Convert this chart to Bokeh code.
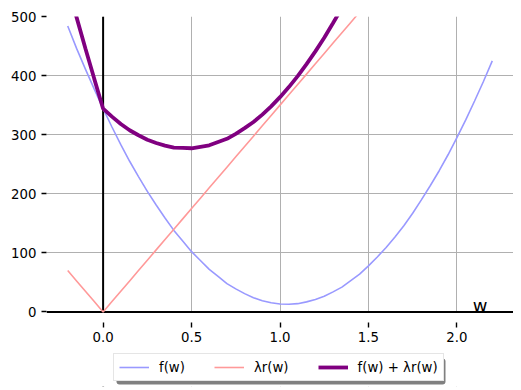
from bokeh.plotting import figure
from bokeh.models import (Range1d, FixedTicker, Span, Legend, LegendItem, Label,
                          BoxAnnotation)
from bokeh.embed import file_html
from bokeh.resources import INLINE

# ---- data ----
w = [-0.20, -0.15, -0.10, -0.05, 0.00, 0.05, 0.10, 0.15, 0.20, 0.25, 0.30, 0.35,
     0.40, 0.45, 0.50, 0.55, 0.60, 0.65, 0.70, 0.75, 0.80, 0.85, 0.90, 0.95,
     1.00, 1.05, 1.10, 1.15, 1.20, 1.25, 1.30, 1.35, 1.40, 1.45, 1.50, 1.55,
     1.60, 1.65, 1.70, 1.75, 1.80, 1.85, 1.90, 1.95, 2.00, 2.05, 2.10, 2.15, 2.20]

f_w = [484, 446, 411, 377, 344, 313, 283, 255, 229, 204, 181, 159,
       138, 120, 102, 87, 72, 60, 48, 39, 31, 24, 19, 15.5,
       13.5, 13, 14, 17, 21, 26.5, 34, 42, 53, 64, 78, 93,
       109, 127, 146, 167, 190, 214, 239, 266, 295, 325, 357, 390, 425]

lam_r = [70, 52.5, 35, 17.5, 0, 17.5, 35, 52.5, 70, 87.5, 105, 122.5,
         140, 157.5, 175, 192.5, 210, 227.5, 245, 262.5, 280, 297.5, 315, 332.5,
         350, 367.5, 385, 402.5, 420, 437.5, 455, 472.5, 490, 507.5, 525, 542.5,
         560, 577.5, 595, 612.5, 630, 647.5, 665, 682.5, 700, 717.5, 735, 752.5, 770]

total = [554, 498.5, 446, 394.5, 344, 330.5, 318, 307.5, 299, 291.5, 286, 281.5,
         278, 277.5, 277, 279.5, 282, 287.5, 293, 301.5, 311, 321.5, 334, 348,
         363.5, 380.5, 399, 419.5, 441, 464, 489, 514.5, 543, 571.5, 603, 635.5,
         669, 704.5, 741, 779.5, 820, 861.5, 904, 948.5, 995, 1042.5, 1092, 1142.5, 1195]

x_ticks = [0.0, 0.5, 1.0, 1.5, 2.0]
x_tick_labels = ["0.0", "0.5", "1.0", "1.5", "2.0"]
y_ticks = [0, 100, 200, 300, 400, 500]
series_labels = ["f(w)", "\u03bbr(w)", "f(w) + \u03bbr(w)"]
axis_name = "w"

FONT = "DejaVu Sans"

p = figure(width=513, height=390, output_backend="svg", toolbar_location=None,
           x_range=Range1d(-0.32, 2.32), y_range=Range1d(-126.2, 500),
           min_border_left=46, min_border_right=0, min_border_top=16,
           min_border_bottom=4)
p.outline_line_color = None
p.background_fill_color = "white"
p.border_fill_color = "white"

# grid
p.xgrid.ticker = FixedTicker(ticks=x_ticks)
p.ygrid.ticker = FixedTicker(ticks=y_ticks)
for g in (p.xgrid, p.ygrid):
    g.grid_line_color = "#b0b0b0"
    g.grid_line_width = 1

# x axis drawn a little below y = 0 (offset spine, hidden line)
xa = p.xaxis[0]
xa.fixed_location = -18.5
xa.ticker = FixedTicker(ticks=x_ticks)
xa.major_label_overrides = {t: s for t, s in zip(x_ticks, x_tick_labels)}
xa.axis_line_color = None
xa.major_tick_in = 0
xa.major_tick_out = 5
xa.major_tick_line_color = "black"
xa.major_tick_line_width = 1.4
xa.minor_tick_line_color = None
xa.major_label_standoff = 4
xa.major_label_text_font = FONT
xa.major_label_text_font_size = "13.3px"
xa.major_label_text_color = "black"

ya = p.yaxis[0]
ya.ticker = FixedTicker(ticks=y_ticks)
ya.axis_line_color = None
ya.major_tick_in = 0
ya.major_tick_out = 5
ya.major_tick_line_color = "black"
ya.major_tick_line_width = 1.4
ya.minor_tick_line_color = None
ya.major_label_standoff = 5
ya.major_label_text_font = FONT
ya.major_label_text_font_size = "13.3px"
ya.major_label_text_color = "black"

# zero lines, and a white mask below y = 0
p.add_layout(Span(location=0, dimension="height", line_color="black",
                  line_width=2, level="underlay"))
p.add_layout(BoxAnnotation(top=0, fill_color="white", fill_alpha=1,
                           line_color=None, level="underlay"))
p.add_layout(Span(location=0, dimension="width", line_color="black",
                  line_width=2, level="underlay"))

r1 = p.line(w, f_w, line_color="#9999ff", line_width=1.6)
r2 = p.line(w, lam_r, line_color="#ff9999", line_width=1.6)
r3 = p.line(w, total, line_color="#800080", line_width=3.8)

# legend drop shadow (screen units, frame-relative)
LEG_X, LEG_Y, LEG_W, LEG_H, SH = 67, 5, 329, 26, 3
p.add_layout(BoxAnnotation(left=LEG_X + SH, right=LEG_X + LEG_W + SH,
                           bottom=LEG_Y - SH, top=LEG_Y + LEG_H - SH,
                           left_units="screen", right_units="screen",
                           bottom_units="screen", top_units="screen",
                           fill_color="#808080", fill_alpha=1,
                           line_color=None, border_radius=3))

legend = Legend(items=[LegendItem(label=series_labels[0], renderers=[r1]),
                       LegendItem(label=series_labels[1], renderers=[r2]),
                       LegendItem(label=series_labels[2], renderers=[r3])],
                location=(LEG_X, LEG_Y))
legend.orientation = "horizontal"
legend.glyph_width = 30
legend.glyph_height = 16
legend.label_height = 16
legend.label_standoff = 10
legend.spacing = 29
legend.padding = 5
legend.margin = 0
legend.label_text_font = FONT
legend.label_text_font_size = "13.3px"
legend.label_text_color = "black"
legend.background_fill_color = "white"
legend.background_fill_alpha = 1
legend.border_line_color = "#cccccc"
legend.border_line_width = 1
p.add_layout(legend)

p.add_layout(Label(x=2.09, y=11, text=axis_name, text_font=FONT,
                   text_font_size="18px", text_baseline="alphabetic",
                   text_align="left", text_color="black"))

open("out.html", "w").write(file_html(p, INLINE))
